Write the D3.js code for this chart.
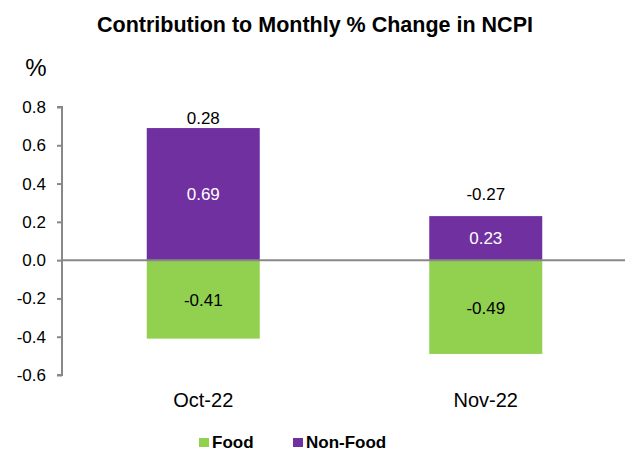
<!DOCTYPE html>
<html>
<head>
<meta charset="utf-8">
<script src="https://cdn.jsdelivr.net/npm/d3@7"></script>
<style>
  body { margin: 0; background: #fff; font-family: "Liberation Sans", Arial, sans-serif; }
  svg text { font-family: "Liberation Sans", Arial, sans-serif; }
</style>
</head>
<body>
<svg id="chart" width="625" height="452"></svg>
<script>
const CATEGORIES = ["Oct-22", "Nov-22"];
const FOOD = [-0.41, -0.49];
const NON_FOOD = [0.69, 0.23];
const TOTAL = [0.28, -0.27];
const Y_TICKS = [0.8, 0.6, 0.4, 0.2, 0.0, -0.2, -0.4, -0.6];

const COLORS = { food: "#92D050", nonFood: "#7030A0" };
// gap between bar top and the total label (px), as placed in the source chart
const TOTAL_GAP = [4.5, 16.5];

const svg = d3.select("#chart");

const x = d3.scaleBand().domain(CATEGORIES).range([62, 627]).paddingInner(0.6).paddingOuter(0.3);
const y = d3.scaleLinear().domain([-0.6, 0.8]).range([375, 107]);

// title
svg.append("text").attr("x", 315).attr("y", 32)
  .attr("text-anchor", "middle").style("font-size", "21.5px").style("font-weight", "bold")
  .text("Contribution to Monthly % Change in NCPI");

svg.append("text").attr("x", 36).attr("y", 76)
  .attr("text-anchor", "middle").style("font-size", "24px")
  .text("%");

// y axis
const yAxis = svg.append("g").attr("transform", "translate(62,0)")
  .call(d3.axisLeft(y).tickValues(Y_TICKS).tickSize(5).tickPadding(11));
yAxis.select(".domain").attr("stroke", "#888").attr("stroke-width", 2).attr("d", "M-5,107H0V375H-5");
yAxis.selectAll(".tick line").attr("stroke", "#888").attr("stroke-width", 2);
yAxis.selectAll(".tick text").style("font-size", "17px").attr("fill", "#000")
  .text(d => d3.format(".1f")(d).replace("−", "-"));

// bars
const rows = CATEGORIES.map((c, i) => ({ cat: c, food: FOOD[i], nonFood: NON_FOOD[i], total: TOTAL[i], gap: TOTAL_GAP[i] }));

svg.selectAll("rect.food").data(rows).join("rect").attr("class", "food")
  .attr("x", d => x(d.cat)).attr("width", x.bandwidth())
  .attr("y", y(0)).attr("height", d => y(d.food) - y(0))
  .attr("fill", COLORS.food);

svg.selectAll("rect.nonfood").data(rows).join("rect").attr("class", "nonfood")
  .attr("x", d => x(d.cat)).attr("width", x.bandwidth())
  .attr("y", d => y(d.nonFood)).attr("height", d => y(0) - y(d.nonFood))
  .attr("fill", COLORS.nonFood);

// zero line
svg.append("line").attr("x1", 62).attr("x2", 625).attr("y1", y(0)).attr("y2", y(0))
  .attr("stroke", "#888").attr("stroke-width", 2);

const cx = d => x(d.cat) + x.bandwidth() / 2;

svg.selectAll("text.nf-label").data(rows).join("text").attr("class", "nf-label")
  .attr("x", cx).attr("y", d => (y(d.nonFood) + y(0)) / 2 + 6)
  .attr("text-anchor", "middle").attr("fill", "#fff").style("font-size", "17px")
  .text(d => d.nonFood.toFixed(2));

svg.selectAll("text.f-label").data(rows).join("text").attr("class", "f-label")
  .attr("x", cx).attr("y", d => (y(d.food) + y(0)) / 2 + 6.5)
  .attr("text-anchor", "middle").attr("fill", "#000").style("font-size", "17px")
  .text(d => d.food.toFixed(2));

svg.selectAll("text.total").data(rows).join("text").attr("class", "total")
  .attr("x", cx).attr("y", d => y(d.nonFood) - d.gap)
  .attr("text-anchor", "middle").attr("fill", "#000").style("font-size", "17px")
  .text(d => d.total.toFixed(2));

// x labels
svg.selectAll("text.cat").data(rows).join("text").attr("class", "cat")
  .attr("x", cx).attr("y", 407)
  .attr("text-anchor", "middle").style("font-size", "20px")
  .text(d => d.cat);

// legend
const legend = [
  { label: "Food", color: COLORS.food, x: 199 },
  { label: "Non-Food", color: COLORS.nonFood, x: 293 }
];
const lg = svg.selectAll("g.legend").data(legend).join("g").attr("class", "legend")
  .attr("transform", d => `translate(${d.x},438)`);
lg.append("rect").attr("width", 10).attr("height", 9).attr("fill", d => d.color);
lg.append("text").attr("x", 13).attr("y", 10).style("font-size", "17px").style("font-weight", "bold")
  .text(d => d.label);
</script>
</body>
</html>
